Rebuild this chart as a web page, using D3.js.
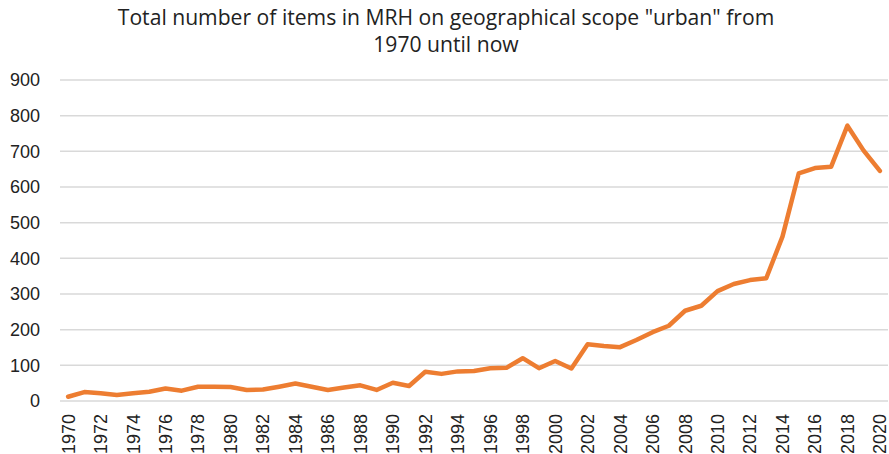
<!DOCTYPE html>
<html>
<head>
<meta charset="utf-8">
<script src="https://cdn.jsdelivr.net/npm/d3@7"></script>
<style>
  body { margin: 0; background: #fff; }
  svg { display: block; }
</style>
</head>
<body>
<div id="chart"></div>
<script>
// 数据
var years = d3.range(1970, 2021);
var items = [12, 25, 22, 17, 22, 26, 35, 29, 40, 40,
             39, 31, 32, 40, 49, 40, 31, 38, 44, 31,
             51, 42, 82, 76, 83, 84, 92, 93, 120, 92,
             112, 91, 159, 154, 151, 171, 193, 211, 253, 267,
             308, 328, 339, 344, 461, 638, 653, 657, 772, 702,
             645];
var yTicks = [0, 100, 200, 300, 400, 500, 600, 700, 800, 900];
var titleLines = ['Total number of items in MRH on geographical scope "urban" from', '1970 until now'];

var width = 889, height = 454;
var margin = { left: 60, right: 1, top: 80, bottom: 53 };

var svg = d3.select("#chart")
    .append("svg")
    .attr("width", width)
    .attr("height", height);

var x = d3.scaleBand()
    .domain(years)
    .range([margin.left, width - margin.right]);

var y = d3.scaleLinear()
    .domain([0, 900])
    .range([height - margin.bottom, margin.top]);

// 网格线
svg.append("g")
    .selectAll("line")
    .data(yTicks)
    .enter()
    .append("line")
    .attr("x1", margin.left)
    .attr("x2", width - margin.right)
    .attr("y1", function (d) { return y(d); })
    .attr("y2", function (d) { return y(d); })
    .attr("stroke", "#d9d9d9")
    .attr("stroke-width", 1.5);

// y轴文字
svg.append("g")
    .selectAll("text")
    .data(yTicks)
    .enter()
    .append("text")
    .attr("x", 40)
    .attr("y", function (d) { return y(d); })
    .attr("dy", "0.36em")
    .attr("text-anchor", "end")
    .attr("font-family", "Liberation Sans, Arial, sans-serif")
    .attr("font-size", "18px")
    .attr("fill", "#222")
    .text(function (d) { return d; });

// x轴文字(隔年显示)
svg.append("g")
    .selectAll("text")
    .data(years.filter(function (d, i) { return i % 2 === 0; }))
    .enter()
    .append("text")
    .attr("transform", function (d) {
        return "translate(" + (x(d) + x.bandwidth() / 2) + "," + (height - margin.bottom + 13) + ") rotate(-90)";
    })
    .attr("dy", "0.36em")
    .attr("text-anchor", "end")
    .attr("font-family", "Liberation Sans, Arial, sans-serif")
    .attr("font-size", "18px")
    .attr("fill", "#222")
    .text(function (d) { return d; });

// 折线
var line = d3.line()
    .x(function (d, i) { return x(years[i]) + x.bandwidth() / 2; })
    .y(function (d) { return y(d); });

svg.append("path")
    .datum(items)
    .attr("d", line)
    .attr("fill", "none")
    .attr("stroke", "#ed7d31")
    .attr("stroke-width", 4.5)
    .attr("stroke-linejoin", "round")
    .attr("stroke-linecap", "round");

// 标题
var title = svg.append("g")
    .selectAll("text")
    .data(titleLines)
    .enter()
    .append("text")
    .attr("x", 446)
    .attr("y", function (d, i) { return 25 + i * 27; })
    .attr("text-anchor", "middle")
    .attr("font-family", "Open Sans, sans-serif")
    .attr("font-size", "19px")
    .attr("fill", "#222")
    .text(function (d) { return d; });

// 按宽度调整标题字号
var w0 = title.nodes()[0].getComputedTextLength();
var fs = 19 * 657 / w0;
title.attr("font-size", fs + "px");
</script>
</body>
</html>
